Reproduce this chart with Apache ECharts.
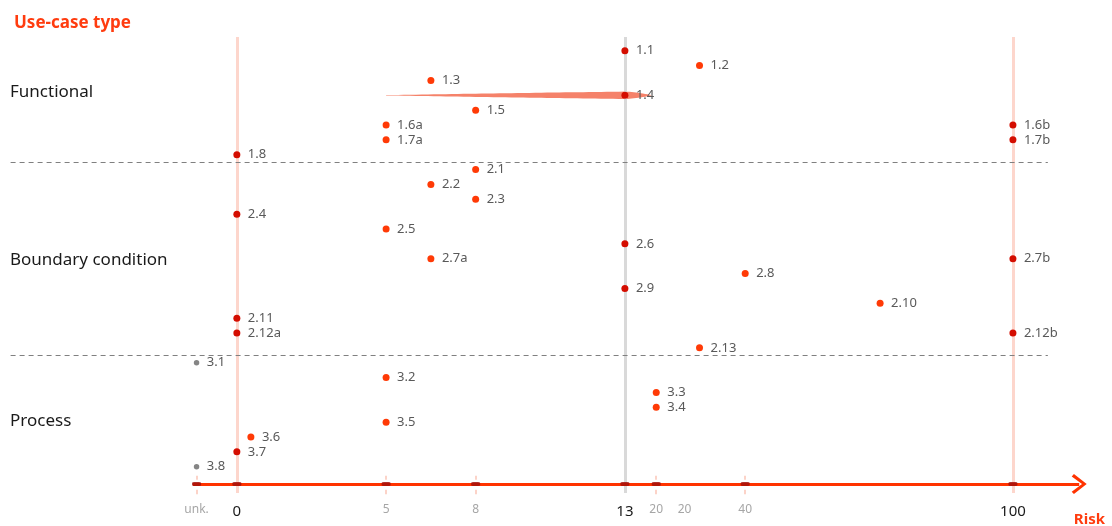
<!DOCTYPE html>
<html><head><meta charset="utf-8">
<script src="https://cdn.jsdelivr.net/npm/echarts@6/dist/echarts.min.js"></script>
<style>html,body{margin:0;padding:0;background:#fff}#c{width:1112px;height:526px}</style>
</head><body><div id="c"></div>
<script>
// ---- data ----
const groupNames = ['Functional', 'Boundary condition', 'Process'];
const groupLabelRows = [2.8, 14.1, 24.9];
const separatorRows = [7.5, 20.5];

const tickLabels = ['unk.', '0', '5', '8', '13', '20', '20', '40', '100'];
const tickPositions = [-1.35, 0, 5, 8, 13, 14.05, 15.0, 17.03, 26];
const tickMarked = [true, true, true, true, true, true, false, true, true];
const keyTicks = ['0', '13', '100'];

const caseIds = ['1.1','1.2','1.3','1.4','1.5','1.6a','1.6b','1.7a','1.7b','1.8',
  '2.1','2.2','2.3','2.4','2.5','2.6','2.7a','2.7b','2.8','2.9','2.10','2.11','2.12a','2.12b','2.13',
  '3.1','3.2','3.3','3.4','3.5','3.6','3.7','3.8'];
const caseRows = [0,1,2,3,4,5,5,6,6,7,
  8,9,10,11,12,13,14,14,15,16,17,18,19,19,20,
  21,22,23,24,25,26,27,28];
const riskPositions = [13,15.5,6.5,13,8,5,26,5,26,0,
  8,6.5,8,0,5,13,6.5,26,17.03,13,21.55,0,0,26,15.5,
  -1.35,5,14.05,14.05,5,0.47,0,-1.35];
const rangeCase = '1.4';
const rangeFrom = 5;
const rangeTo = 13;

// ---- chart ----
const X_MIN = -7.6, X_MAX = 28.9, Y_MIN = -1, Y_MAX = 30;
const AXIS_ROW = 29.17;
const ORANGE = '#ff3c0f';
const keyPos = tickPositions.filter((p, i) => keyTicks.includes(tickLabels[i]));
const unkPos = tickPositions[tickLabels.indexOf('unk.')];

function dotColor(x) {
  if (keyPos.some(p => Math.abs(p - x) < 1e-6)) return '#d40d00';
  if (Math.abs(x - unkPos) < 1e-6) return '#858585';
  return '#ff3a06';
}

const dots = caseIds.map((id, i) => ({
  value: [riskPositions[i], caseRows[i], id],
  symbolSize: Math.abs(riskPositions[i] - unkPos) < 1e-6 ? 5.5 : 7,
  itemStyle: { color: dotColor(riskPositions[i]), opacity: 1 }
}));

const vLines = keyPos.map(p => [
  { coord: [p, -0.92], lineStyle: { color: Math.abs(p - 13) < 1e-6 ? '#d9d9d9' : '#fdd6cc', width: 3, type: 'solid' } },
  { coord: [p, 29.77] }
]);
const tickDashes = [];
tickPositions.forEach((p, i) => {
  if (!tickMarked[i] || keyTicks.includes(tickLabels[i])) return;
  tickDashes.push([{ coord: [p, 28.6] }, { coord: [p, 28.88] }]);
  tickDashes.push([{ coord: [p, 29.55] }, { coord: [p, 29.85] }]);
});
const seps = separatorRows.map(r => [{ coord: [X_MIN + 0.02, r] }, { coord: [27.17, r] }]);
const blobs = tickPositions.filter((p, i) => tickMarked[i]).map(p => [p, AXIS_ROW]);
const rangeRow = caseRows[caseIds.indexOf(rangeCase)];

const chart = echarts.init(document.getElementById('c'), null, { renderer: 'canvas' });
chart.setOption({
  animation: false,
  textStyle: { fontFamily: 'Noto Sans' },
  title: [
    { text: 'Use-case type', left: 9, top: 10, textStyle: { color: ORANGE, fontSize: 17, fontWeight: 'bold', fontFamily: 'Noto Sans' } },
    { text: 'Risk', right: 2, top: 507, textStyle: { color: ORANGE, fontSize: 15, fontWeight: 'bold', fontFamily: 'Noto Sans' } }
  ],
  grid: { left: 10, top: 35.84, width: 1089.5, height: 460.6, containLabel: false },
  xAxis: {
    type: 'value', min: X_MIN, max: X_MAX,
    axisLine: { show: false }, axisTick: { show: false }, splitLine: { show: false },
    axisLabel: {
      customValues: tickPositions, margin: 7, hideOverlap: false,
      formatter: v => {
        const i = tickPositions.findIndex(p => Math.abs(p - v) < 1e-6);
        if (i < 0) return '';
        const t = tickLabels[i];
        return keyTicks.includes(t) ? '{k|' + t + '}' : '{g|' + t + '}';
      },
      rich: {
        k: { fontSize: 15, color: '#1a1a1a', fontFamily: 'Noto Sans', padding: [1, 0, 0, 0] },
        g: { fontSize: 12, color: '#a6a6a6', fontFamily: 'Noto Sans' }
      }
    }
  },
  yAxis: {
    type: 'value', inverse: true, min: Y_MIN, max: Y_MAX,
    axisLine: { show: false }, axisTick: { show: false }, splitLine: { show: false },
    axisLabel: {
      customValues: groupLabelRows, inside: true, margin: 0, align: 'left',
      fontSize: 17, color: '#1a1a1a', fontFamily: 'Noto Sans',
      formatter: v => {
        const i = groupLabelRows.findIndex(p => Math.abs(p - v) < 1e-6);
        return i < 0 ? '' : groupNames[i];
      }
    }
  },
  series: [
    {
      type: 'scatter', data: [], z: 1, silent: true,
      markLine: { silent: true, symbol: 'none', label: { show: false }, animation: false,
        data: vLines.concat(tickDashes.map(d => [Object.assign({}, d[0], { lineStyle: { color: '#fcd3c8', width: 2, type: 'solid' } }), d[1]])) }
    },
    {
      type: 'scatter', data: [], z: 2, silent: true,
      markLine: { silent: true, symbol: 'none', label: { show: false }, animation: false,
        lineStyle: { color: '#808080', width: 1, type: [5, 4] }, data: seps }
    },
    {
      type: 'custom', z: 3, silent: true,
      data: [[rangeFrom, rangeTo, rangeRow]],
      encode: { x: [0, 1], y: 2 },
      renderItem: (params, api) => {
        const a = api.coord([api.value(0), api.value(2)]);
        const b = api.coord([api.value(1), api.value(2)]);
        const hmax = 3.7, cap = 27, N = 40;
        const top = [], bot = [];
        for (let i = 0; i <= N; i++) {
          const t = i / N;
          const x = a[0] + t * (b[0] - a[0]);
          const h = Math.max(0.35, hmax * Math.pow(t, 0.85));
          top.push([x, a[1] - h]); bot.push([x, a[1] + h]);
        }
        for (let i = 1; i <= 12; i++) {
          const dx = cap * i / 12;
          const h = hmax * Math.max(0, 1 - Math.pow(dx / cap, 1.6));
          top.push([b[0] + dx, a[1] - h]); bot.push([b[0] + dx, a[1] + h]);
        }
        const pts = top.concat(bot.reverse());
        return { type: 'polygon', shape: { points: pts }, style: { fill: '#f5826a', opacity: 1 } };
      }
    },
    {
      type: 'scatter', data: [], z: 4, silent: true,
      markLine: { silent: true, label: { show: false }, animation: false,
        symbol: ['none', 'path://M0,12.6 L10,0 L20,12.6 L17.6,14.8 L10,4.6 L2.4,14.8 Z'],
        symbolSize: [20, 15], symbolKeepAspect: false,
        lineStyle: { color: '#ff3300', width: 3, type: 'solid' },
        itemStyle: { color: '#ff3300' },
        data: [[{ coord: [-1.47, AXIS_ROW] }, { coord: [28.22, AXIS_ROW] }]] }
    },
    {
      type: 'scatter', z: 5, silent: true, data: blobs,
      symbol: 'roundRect', symbolSize: [9, 4],
      itemStyle: { color: '#a5100a', opacity: 0.85 }
    },
    {
      type: 'scatter', z: 10, data: dots,
      label: {
        show: true, position: 'right', distance: 7.5,
        formatter: p => p.value[2], color: '#595959', fontSize: 13, fontFamily: 'Noto Sans'
      }
    }
  ]
});
</script></body></html>
